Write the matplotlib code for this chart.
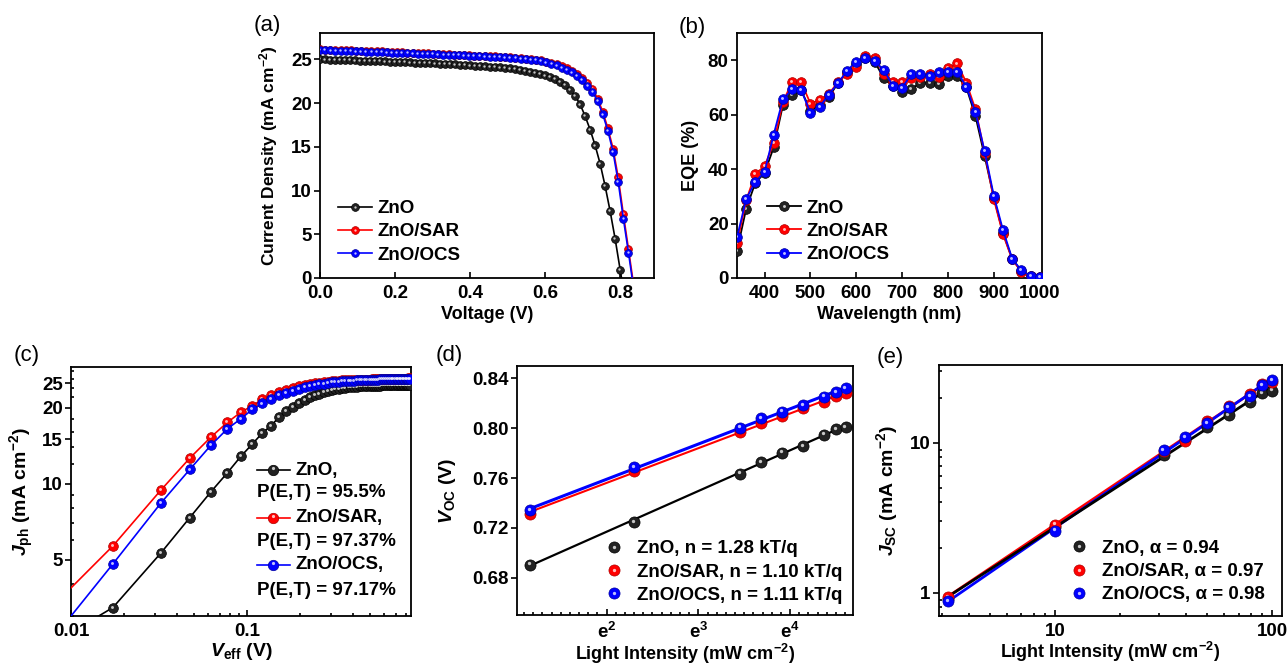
import numpy as np
import matplotlib
matplotlib.use('Agg')
import matplotlib.pyplot as plt
from matplotlib import transforms as mtransforms
from matplotlib.lines import Line2D
from matplotlib.ticker import FixedLocator, FuncFormatter, NullFormatter, MultipleLocator

plt.rcParams['font.family'] = ['Liberation Sans', 'DejaVu Sans']
plt.rcParams['font.weight'] = 'bold'
plt.rcParams['axes.labelweight'] = 'bold'
plt.rcParams['mathtext.fontset'] = 'custom'
plt.rcParams['mathtext.rm'] = 'Liberation Sans:bold'
plt.rcParams['mathtext.it'] = 'Liberation Sans:bold:italic'
plt.rcParams['mathtext.bf'] = 'Liberation Sans:bold'
plt.rcParams['mathtext.default'] = 'regular'

# ---- (a) J-V curves ----
v_zno = np.arange(62) * 0.01333
v_sar = np.arange(62) * 0.0137
j_zno = [25.00, 24.98, 24.96, 24.95, 24.93, 24.91, 24.89, 24.87, 24.85, 24.83,
         24.81, 24.79, 24.77, 24.75, 24.73, 24.71, 24.69, 24.67, 24.65, 24.62,
         24.60, 24.58, 24.55, 24.53, 24.50, 24.47, 24.45, 24.42, 24.38, 24.35,
         24.30, 24.26, 24.22, 24.18, 24.14, 24.10, 24.06, 24.01, 23.95, 23.88,
         23.80, 23.70, 23.58, 23.45, 23.30, 23.15, 22.95, 22.72, 22.42, 22.03,
         21.50, 20.80, 19.85, 18.50, 16.95, 15.15, 13.06, 10.50, 7.63, 4.47,
         0.95, -2.60]
j_sar = [26.13, 26.11, 26.09, 26.07, 26.05, 26.03, 26.01, 25.99, 25.97, 25.95,
         25.93, 25.91, 25.89, 25.87, 25.85, 25.82, 25.80, 25.77, 25.75, 25.72,
         25.69, 25.66, 25.64, 25.61, 25.58, 25.56, 25.53, 25.51, 25.48, 25.45,
         25.42, 25.40, 25.37, 25.35, 25.32, 25.29, 25.26, 25.22, 25.18, 25.13,
         25.08, 25.03, 24.95, 24.86, 24.74, 24.60, 24.42, 24.20, 23.95, 23.65,
         23.30, 22.85, 22.30, 21.60, 20.50, 19.00, 17.10, 14.80, 11.50, 7.30,
         3.30, -0.80]
j_ocs = [26.05, 26.03, 26.01, 25.99, 25.97, 25.95, 25.93, 25.91, 25.89, 25.87,
         25.85, 25.83, 25.81, 25.79, 25.77, 25.75, 25.73, 25.70, 25.68, 25.65,
         25.63, 25.60, 25.58, 25.56, 25.53, 25.51, 25.48, 25.46, 25.43, 25.40,
         25.37, 25.35, 25.32, 25.30, 25.27, 25.24, 25.21, 25.17, 25.13, 25.08,
         25.03, 24.97, 24.90, 24.80, 24.65, 24.50, 24.30, 24.05, 23.80, 23.50,
         23.10, 22.65, 22.00, 21.30, 20.20, 18.70, 16.80, 14.40, 11.00, 6.80,
         2.90, -1.20]

# ---- (b) EQE ----
wavelength = np.arange(340, 1001, 20)
eqe_zno = [10.0, 25.4, 35.0, 38.5, 48.0, 63.4, 67.1, 69.0, 61.5, 63.5,
           66.5, 71.5, 75.5, 78.5, 81.0, 79.5, 73.4, 70.5, 68.4, 69.3,
           71.8, 71.8, 71.1, 74.2, 74.2, 70.0, 59.4, 44.7, 29.5, 16.5,
           7.0, 2.5, 0.8, 0.3]
eqe_sar = [12.7, 28.5, 38.3, 41.0, 49.6, 64.5, 72.0, 72.0, 64.1, 65.3,
           67.5, 72.0, 75.0, 77.5, 81.6, 81.0, 75.0, 72.1, 72.0, 73.5,
           74.0, 75.1, 74.0, 77.0, 78.8, 71.8, 61.9, 46.0, 28.9, 16.1,
           6.8, 2.3, 0.8, 0.3]
eqe_ocs = [14.9, 29.0, 35.4, 38.9, 52.7, 65.6, 69.3, 69.0, 60.7, 62.8,
           67.4, 71.5, 76.2, 79.5, 80.7, 79.7, 76.4, 70.5, 69.9, 74.8,
           74.8, 74.2, 75.5, 75.7, 75.8, 70.3, 60.9, 46.5, 30.2, 17.6,
           7.1, 2.8, 0.8, 0.2]

# ---- (c) Jph vs Veff (first point only carries the line) ----
veff = 0.0023 + 0.015 * np.arange(57)
jph_zno = [1.40, 3.24, 5.31, 7.35, 9.29, 11.05, 12.85, 14.38, 15.90, 17.00,
           18.40, 19.40, 20.20, 20.90, 21.50, 22.00, 22.40, 22.75, 23.05, 23.30,
           23.50, 23.68, 23.82, 23.94, 24.03, 24.10, 24.16, 24.21, 24.25, 24.29,
           24.32, 24.35, 24.38, 24.40, 24.42, 24.44, 24.46, 24.48, 24.50, 24.51,
           24.52, 24.53, 24.54, 24.55, 24.56, 24.57, 24.58, 24.59, 24.60, 24.61,
           24.62, 24.63, 24.64, 24.65, 24.66, 24.67, 24.68]
jph_sar = [1.39, 5.68, 9.42, 12.64, 15.30, 17.50, 19.20, 20.40, 21.60, 22.40,
           23.00, 23.50, 24.00, 24.30, 24.60, 24.80, 25.00, 25.15, 25.28, 25.38,
           25.47, 25.55, 25.61, 25.67, 25.72, 25.76, 25.78, 25.80, 25.82, 25.83,
           25.84, 25.85, 25.86, 25.87, 25.88, 25.90, 25.92, 25.93, 25.95, 25.96,
           25.97, 25.98, 25.99, 26.00, 26.01, 26.02, 26.03, 26.04, 26.05, 26.06,
           26.07, 26.08, 26.09, 26.10, 26.11, 26.12, 26.13]
jph_ocs = [0.84, 4.82, 8.37, 11.40, 14.20, 16.50, 18.10, 19.70, 20.80, 21.70,
           22.40, 22.90, 23.40, 23.80, 24.10, 24.40, 24.60, 24.80, 24.95, 25.08,
           25.20, 25.30, 25.38, 25.45, 25.51, 25.56, 25.60, 25.64, 25.68, 25.71,
           25.74, 25.76, 25.78, 25.80, 25.82, 25.84, 25.86, 25.87, 25.89, 25.90,
           25.91, 25.92, 25.93, 25.94, 25.95, 25.96, 25.97, 25.98, 25.99, 26.00,
           26.01, 26.02, 26.03, 26.04, 26.05, 26.06, 26.07]

# ---- (d), (e) light intensity dependence ----
intensity = np.array([3.2, 10, 31.6, 39.8, 50, 63, 79, 90, 100])
voc_zno = [0.6905, 0.725, 0.7636, 0.7732, 0.7805, 0.786, 0.7949, 0.799, 0.8013]
voc_sar = [0.7315, 0.766, 0.7966, 0.804, 0.810, 0.816, 0.8207, 0.826, 0.828]
voc_ocs = [0.734, 0.769, 0.8006, 0.808, 0.8134, 0.8187, 0.8255, 0.829, 0.8325]
jsc_zno = [0.91, 2.75, 8.3, 10.5, 12.8, 15.4, 18.8, 21.5, 22.3]
jsc_sar = [0.94, 2.85, 8.8, 10.3, 14.0, 17.6, 21.2, 24.7, 25.5]
jsc_ocs = [0.88, 2.60, 8.9, 10.9, 13.6, 17.3, 20.6, 24.4, 26.3]

names = ['ZnO', 'ZnO/SAR', 'ZnO/OCS']
pet = ['95.5%', '97.37%', '97.17%']
n_ideal = ['1.28', '1.10', '1.11']
alpha = ['0.94', '0.97', '0.98']

colors = ['#222222', '#ff0000', '#0000ff']
edges = ['#000000', '#b00000', '#0000a0']
line_colors = ['black', '#ff0000', '#0000ff']

W, H = 1287, 665
fig = plt.figure(figsize=(W / 100, H / 100), dpi=100)
TICK = 13.5
LEG = 13.5
LAB = 13


def px_axes(l, t, r, b):
    return fig.add_axes([l / W, 1 - b / H, (r - l) / W, (b - t) / H])


def balls(ax, x, y, i, ms, lw=1.2, ls='-', markevery=None, z=3):
    ln, = ax.plot(x, y, ls=ls, color=line_colors[i], lw=lw, marker='o', ms=ms,
                  mfc=colors[i], mec=edges[i], mew=0.5, markevery=markevery, zorder=z)
    tr = mtransforms.offset_copy(ax.transData, fig=fig, x=-ms * 0.1, y=ms * 0.1, units='points')
    hl, = ax.plot(x, y, ls='none', marker='o', ms=ms * 0.3, mfc='white', mec='none',
                  alpha=0.75, transform=tr, markevery=markevery, zorder=z)
    return ln, hl


def style(ax):
    for s in ax.spines.values():
        s.set_linewidth(1.3)
    ax.tick_params(axis='both', which='both', labelsize=TICK, width=1.2, top=False, right=False)
    ax.tick_params(axis='x', which='major', direction='in', length=4, pad=5)
    ax.tick_params(axis='x', which='minor', direction='in', length=2.5)
    ax.tick_params(axis='y', which='major', direction='out', length=4, pad=2)
    ax.tick_params(axis='y', which='minor', direction='in', length=2.5)


def leg(ax, hs, labels, x, y, hlen, pad):
    ax.legend(hs, labels, loc='lower left', bbox_to_anchor=(x, y), frameon=False,
              fontsize=LEG, handlelength=hlen, handletextpad=pad, labelspacing=0.33,
              borderpad=0, borderaxespad=0)


# (a)
ax = px_axes(320, 33, 654, 278)
hs = []
for i, (v, j) in enumerate([(v_zno, j_zno), (v_sar, j_sar), (v_sar, j_ocs)]):
    hs.append(balls(ax, v, j, i, 5.6, lw=1.2))
ax.set_xlim(0, 0.89)
ax.set_ylim(0, 28)
ax.xaxis.set_major_locator(MultipleLocator(0.2))
ax.yaxis.set_major_locator(MultipleLocator(5))
ax.xaxis.set_major_formatter(FuncFormatter(lambda x, p: '%.1f' % x))
ax.set_xlabel('Voltage (V)', fontsize=LAB, labelpad=3)
ax.set_ylabel('Current Density (mA cm$^{-2}$)', fontsize=12.5, labelpad=8)
style(ax)
leg(ax, hs, names, 0.054, 0.058, 1.8, 0.3)

# (b)
ax = px_axes(737, 33, 1042, 278)
hs = []
for i, e in enumerate([eqe_zno, eqe_sar, eqe_ocs]):
    hs.append(balls(ax, wavelength, e, i, 7, lw=1.3))
ax.set_xlim(340, 1005)
ax.set_ylim(0, 90)
ax.xaxis.set_major_locator(MultipleLocator(100))
ax.yaxis.set_major_locator(MultipleLocator(20))
ax.set_xlabel('Wavelength (nm)', fontsize=LAB, labelpad=3)
ax.set_ylabel('EQE (%)', fontsize=LAB, labelpad=6)
style(ax)
leg(ax, hs, names, 0.098, 0.06, 1.8, 0.3)

# (c)
ax = px_axes(71, 367, 411, 616)
for i, j in enumerate([jph_zno, jph_sar, jph_ocs]):
    balls(ax, veff, j, i, 7, lw=1.2, markevery=list(range(1, len(veff))))
ax.set_xscale('log')
ax.set_yscale('log')
ax.set_xlim(0.01, 0.855)
ax.set_ylim(3.0, 29)
ax.xaxis.set_major_locator(FixedLocator([0.01, 0.1]))
ax.xaxis.set_major_formatter(FuncFormatter(lambda x, p: '%g' % x))
ax.xaxis.set_minor_formatter(NullFormatter())
ax.yaxis.set_major_locator(FixedLocator([5, 10, 15, 20, 25]))
ax.yaxis.set_major_formatter(FuncFormatter(lambda x, p: '%d' % x))
ax.yaxis.set_minor_locator(FixedLocator([3, 4, 6, 7, 8, 9, 12, 14, 16, 18, 22, 24, 26, 28]))
ax.yaxis.set_minor_formatter(NullFormatter())
ax.set_xlabel('$\\mathit{V}_{\\mathrm{eff}}$ (V)', fontsize=LAB + 1, labelpad=1)
ax.set_ylabel('$\\mathit{J}_{\\mathrm{ph}}$ (mA cm$^{-2}$)', fontsize=LAB + 1, labelpad=4)
style(ax)
rows = [(0.586, 0.494), (0.394, 0.301), (0.205, 0.104)]
for i, (y1, y2) in enumerate(rows):
    ax.add_line(Line2D([0.547, 0.644], [y1, y1], transform=ax.transAxes, color=line_colors[i],
                       lw=1.2, clip_on=False))
    ax.add_line(Line2D([0.5955], [y1], transform=ax.transAxes, marker='o', ms=7.5, mfc=colors[i],
                       mec=edges[i], mew=0.5, ls='none', clip_on=False))
    ax.add_line(Line2D([0.5935], [y1 + 0.008], transform=ax.transAxes, marker='o', ms=2.3, mfc='white',
                       mec='none', alpha=0.75, ls='none', clip_on=False))
    ax.text(0.659, y1, names[i] + ',', transform=ax.transAxes, fontsize=LEG, va='center', ha='left')
    ax.text(0.547, y2, 'P(E,T) = ' + pet[i], transform=ax.transAxes, fontsize=LEG, va='center', ha='left')

# (d)
ax = px_axes(517, 366, 853, 615)
ax.set_xscale('log', base=np.e)
for i, v in enumerate([voc_zno, voc_sar, voc_ocs]):
    k, b = np.polyfit(np.log(intensity), v, 1)
    fit = k * np.log(intensity[[0, -1]]) + b
    ax.plot(intensity[[0, -1]], fit, color=line_colors[i], lw=[1.6, 1.5, 2.2][i], zorder=[2, 2.2, 2.1][i])
hs = []
for i, v in enumerate([voc_zno, voc_sar, voc_ocs]):
    hs.append(balls(ax, intensity, v, i, 8, ls='none', z=3))
ax.set_xlim(2.78, 108.5)
ax.set_ylim(0.65, 0.85)
ax.xaxis.set_major_locator(FixedLocator([np.e ** 2, np.e ** 3, np.e ** 4]))
ax.xaxis.set_major_formatter(FuncFormatter(lambda x, p: '$e^{%d}$' % round(np.log(x))))
ax.xaxis.set_minor_locator(FixedLocator([np.e ** (k / 10) for k in range(10, 48) if k % 10]))
ax.xaxis.set_minor_formatter(NullFormatter())
ax.yaxis.set_major_locator(FixedLocator([0.68, 0.72, 0.76, 0.80, 0.84]))
ax.yaxis.set_major_formatter(FuncFormatter(lambda x, p: '%.2f' % x))
ax.set_xlabel('Light Intensity (mW cm$^{-2}$)', fontsize=LAB, labelpad=0)
ax.set_ylabel('$\\mathit{V}_{\\mathrm{OC}}$ (V)', fontsize=LAB + 1, labelpad=10)
style(ax)
leg(ax, hs, ['%s, n = %s kT/q' % (nm, n) for nm, n in zip(names, n_ideal)], 0.261, 0.044, 1.0, 0.7)

# (e)
ax = px_axes(939, 365, 1282, 616)
ax.set_xscale('log')
ax.set_yscale('log')
for i, jv in [(1, jsc_sar), (2, jsc_ocs), (0, jsc_zno)]:
    k, b = np.polyfit(np.log10(intensity), np.log10(jv), 1)
    fit = 10 ** (k * np.log10(intensity[[0, -1]]) + b)
    ax.plot(intensity[[0, -1]], fit, color=line_colors[i], lw=2.0, zorder=2)
hs = []
for i, jv in enumerate([jsc_zno, jsc_sar, jsc_ocs]):
    hs.append(balls(ax, intensity, jv, i, 8, ls='none', z=3))
ax.set_xlim(2.92, 111)
ax.set_ylim(0.7, 33)
ax.xaxis.set_major_formatter(FuncFormatter(lambda x, p: '%g' % x))
ax.yaxis.set_major_formatter(FuncFormatter(lambda x, p: '%g' % x))
ax.xaxis.set_minor_formatter(NullFormatter())
ax.yaxis.set_minor_formatter(NullFormatter())
ax.set_xlabel('Light Intensity (mW cm$^{-2}$)', fontsize=LAB, labelpad=0)
ax.set_ylabel('$\\mathit{J}_{\\mathrm{SC}}$ (mA cm$^{-2}$)', fontsize=LAB + 1, labelpad=7)
style(ax)
leg(ax, hs, ['%s, \u03b1 = %s' % (nm, a) for nm, a in zip(names, alpha)], 0.381, 0.05, 1.0, 0.7)

for s, x, y in [('(a)', 267, 26), ('(b)', 692, 27), ('(c)', 27, 356), ('(d)', 449, 356), ('(e)', 890, 357)]:
    fig.text(x / W, 1 - y / H, s, fontsize=16, fontweight='normal', ha='center', va='center')

fig.savefig('out.png', dpi=100)
